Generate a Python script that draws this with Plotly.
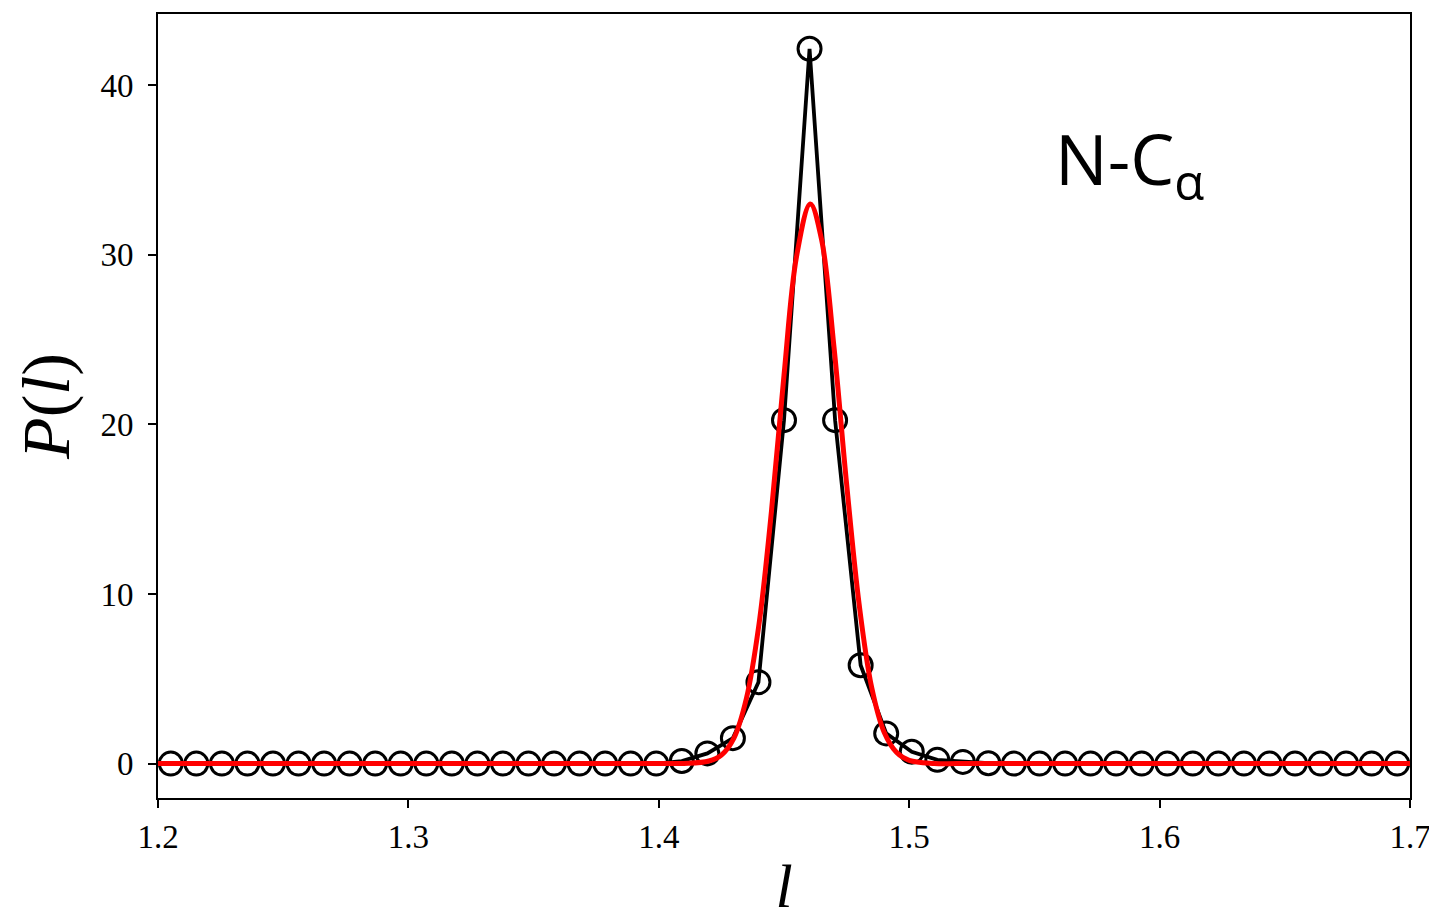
import numpy as np
import plotly.graph_objects as go

# histogram of N-CA bond lengths: 49 bins between 1.2 and 1.7
bin_edges = np.linspace(1.2, 1.7, 50)
bin_centers = 0.5 * (bin_edges[:-1] + bin_edges[1:])
p_hist = [0, 0, 0, 0, 0, 0, 0, 0, 0, 0,
          0, 0, 0, 0, 0, 0, 0, 0, 0, 0,
          0.15, 0.6, 1.5, 4.8, 20.25, 42.15, 20.25, 5.8, 1.78, 0.7,
          0.22, 0.1, 0.02, 0, 0, 0, 0, 0, 0, 0,
          0, 0, 0, 0, 0, 0, 0, 0, 0]

# fitted curve
fit_l = [1.20, 1.40, 1.41, 1.42, 1.425, 1.43, 1.435, 1.44, 1.445, 1.45, 1.455,
         1.4605, 1.465, 1.47, 1.475, 1.48, 1.485, 1.49, 1.495, 1.50, 1.51, 1.52, 1.70]
fit_p = [0, 0, 0.01, 0.15, 0.5, 1.5, 3.85, 8.2, 14.9, 22.9, 29.9,
         33.0, 30.9, 24.5, 16.5, 9.4, 4.5, 1.85, 0.65, 0.19, 0.01, 0, 0]

fig = go.Figure()
fig.add_trace(go.Scatter(x=bin_centers, y=p_hist, mode='lines+markers',
                         line=dict(color='black', width=3.8),
                         marker=dict(symbol='circle-open', size=23, color='black',
                                     line=dict(width=3, color='black')),
                         showlegend=False))
fig.add_trace(go.Scatter(x=fit_l, y=fit_p, mode='lines', line_shape='spline',
                         line=dict(color='#ff0000', width=5), showlegend=False))

fig.add_annotation(x=1.588, y=35.5, xref='x', yref='y', xanchor='center', yanchor='middle',
                   text='N-C<sub>α</sub>', showarrow=False,
                   font=dict(family='Open Sans', size=70, color='black'))

axis_font = dict(family='Liberation Serif', size=33, color='black')
fig.update_xaxes(range=[1.2, 1.7], tickvals=[1.2, 1.3, 1.4, 1.5, 1.6, 1.7],
                 ticktext=['1.2', '1.3', '1.4', '1.5', '1.6', '1.7'],
                 showgrid=False, zeroline=False, showline=True, linecolor='black',
                 linewidth=2, mirror=True, ticks='outside', ticklen=8, tickwidth=2,
                 tickcolor='black', tickfont=axis_font, ticklabelstandoff=0,
                 title=dict(text='<i>l</i>', standoff=16,
                            font=dict(family='Liberation Serif', size=62, color='black')))
fig.update_yaxes(range=[-2.03, 44.2], tickvals=[0, 10, 20, 30, 40],
                 showgrid=False, zeroline=False, showline=True, linecolor='black',
                 linewidth=2, mirror=True, ticks='outside', ticklen=8, tickwidth=2,
                 tickcolor='black', tickfont=axis_font, ticklabelstandoff=8,
                 title=dict(text='<i>P</i>(<i>l</i>)', standoff=16,
                            font=dict(family='Liberation Serif', size=68, color='black')))

# page body keeps its 8px default margin, so the figure is sized to end at the window edge
fig.update_layout(width=1429, height=912, plot_bgcolor='white', paper_bgcolor='white',
                  margin=dict(l=150, r=27, t=4, b=122))
fig.write_html("out.html")
